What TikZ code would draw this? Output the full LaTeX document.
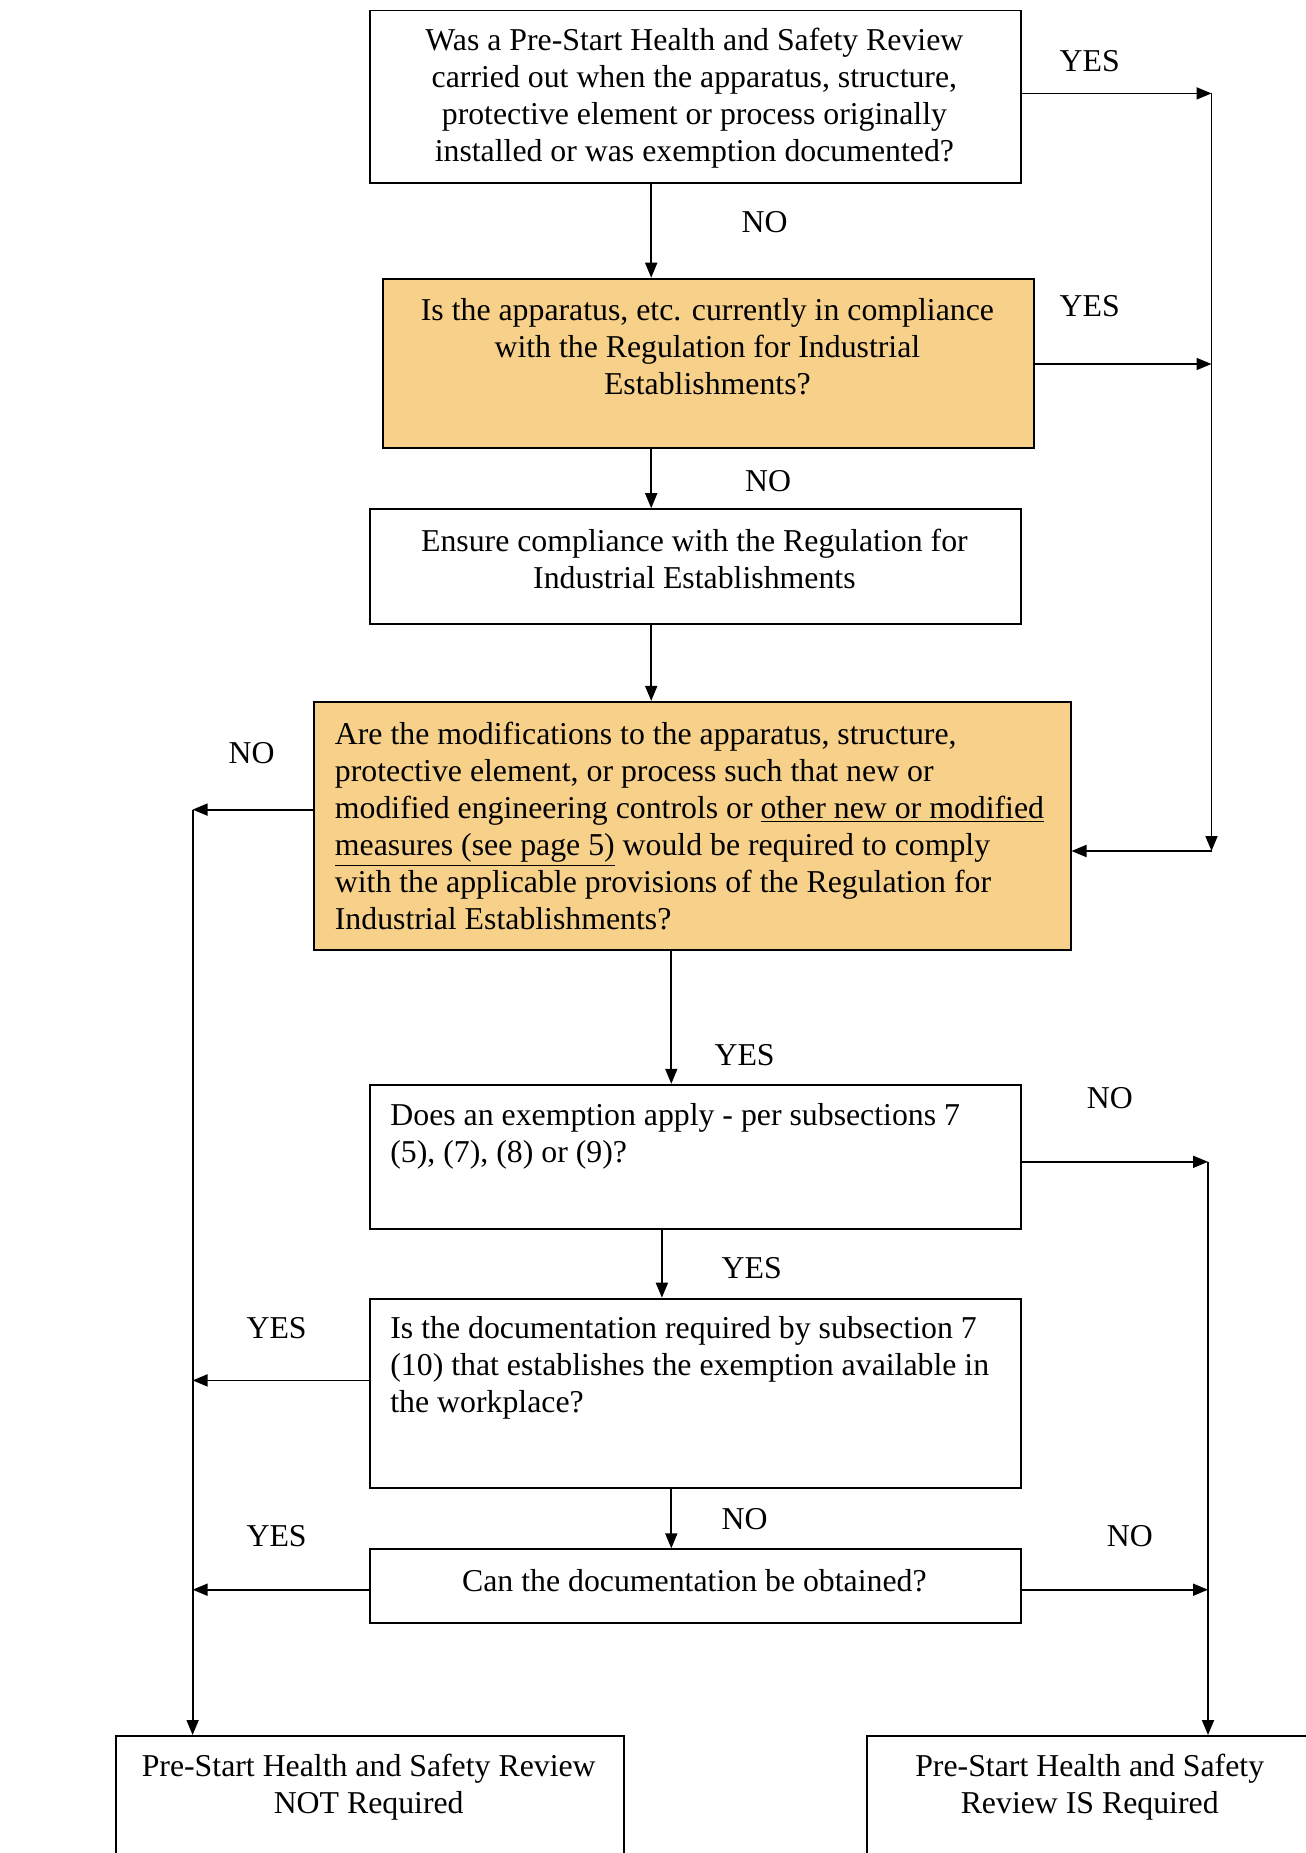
\documentclass[tikz,border=0pt]{standalone}
\usepackage{fontspec}
\setmainfont{Liberation Serif}
\usetikzlibrary{arrows.meta,calc}
\definecolor{boxorange}{RGB}{247,208,138}
\begin{document}
\begin{tikzpicture}[x=0.5pt,y=-0.5pt,
  box/.style={draw, line width=0.95pt, anchor=north west, inner sep=0pt},
  obox/.style={box, fill=boxorange},
  txt/.style={font=\fontsize{15.9}{18.44}\selectfont, inner sep=0pt},
  lbl/.style={font=\fontsize{15.9}{18.44}\selectfont, inner sep=0pt},
  arr/.style={line width=0.9pt, -{Triangle[length=7.5pt,width=6pt]}},
  ln/.style={line width=0.9pt}]
\useasboundingbox (0,0) rectangle (1306,1853);
\clip (0,0) rectangle (1306,1853);
% boxes
\node[box,  minimum width=325.65pt, minimum height=86.25pt] (b1) at (368.7,9.5) {};
\node[obox, minimum width=325.65pt, minimum height=84.55pt] (b2) at (381.7,277.7) {};
\node[box,  minimum width=325.65pt, minimum height=57.35pt] (b3) at (368.7,508.2) {};
\node[obox, minimum width=378.2pt,  minimum height=124.1pt] (b4) at (313.2,700.9) {};
\node[box,  minimum width=325.65pt, minimum height=72.1pt]  (b5) at (368.7,1083.8) {};
\node[box,  minimum width=325.65pt, minimum height=94.55pt] (b6) at (368.7,1297.7) {};
\node[box,  minimum width=325.65pt, minimum height=36.65pt] (b7) at (368.7,1548.3) {};
\node[box,  minimum width=254.15pt, minimum height=82.5pt]  (bl) at (114.6,1735) {};
\node[box,  minimum width=241.85pt, minimum height=82.5pt]  (br) at (866.3,1735) {};
% texts
\node[txt, align=center] (t1) at (694.4,98.5) {Was a Pre-Start Health and Safety Review\\carried out when the apparatus, structure,\\protective element or process originally\\installed or was exemption documented?};
\node[txt, align=center] (t2) at (707.4,347) {Is the apparatus, etc. currently in compliance\\with the Regulation for Industrial\\Establishments?};
\node[txt, align=center] (t3) at (694.4,559) {Ensure compliance with the Regulation for\\Industrial Establishments};
\node[txt, align=left, anchor=west] (t4) at (334.5,826) {Are the modifications to the apparatus, structure,\\protective element, or process such that new or\\modified engineering controls or \underline{other new or modified}\\\underline{measures (see page 5)} would be required to comply\\with the applicable provisions of the Regulation for\\Industrial Establishments?};
\node[txt, align=left, anchor=west] (t5) at (390,1136) {Does an exemption apply - per subsections 7\\(5), (7), (8) or (9)?};
\node[txt, align=left, anchor=west] (t6) at (390,1368) {Is the documentation required by subsection 7\\(10) that establishes the exemption available in\\the workplace?};
\node[txt, align=center] (t7) at (694.4,1580.5) {Can the documentation be obtained?};
\node[txt, align=center] (t8) at (368.7,1787) {Pre-Start Health and Safety Review\\NOT Required};
\node[txt, align=center] (t9) at (1089.7,1787) {Pre-Start Health and Safety\\Review IS Required};
% labels
\node[lbl] (n1) at (764.7,222.5) {NO};
\node[lbl] (y1) at (1089.7,61.5) {YES};
\node[lbl] (y2) at (1089.7,306.5) {YES};
\node[lbl] (n2) at (768,481.5) {NO};
\node[lbl] (n3) at (251.7,753) {NO};
\node[lbl] (y3) at (744.6,1055.5) {YES};
\node[lbl] (n4) at (1109.8,1098) {NO};
\node[lbl] (y4) at (751.7,1268.5) {YES};
\node[lbl] (y5) at (276.6,1328.5) {YES};
\node[lbl] (n5) at (744.6,1519) {NO};
\node[lbl] (y6) at (276.6,1536.5) {YES};
\node[lbl] (n6) at (1129.9,1536.5) {NO};
% junction coordinates
\coordinate (xa) at (651.2,0);
\coordinate (xb) at (671.3,0);
\coordinate (xc) at (661.9,0);
\coordinate (r1) at (1211.5,93.4);
\coordinate (r2) at (1211.5,364);
\coordinate (r3) at (1211.5,851);
\coordinate (r4) at (1208,1161.8);
\coordinate (r5) at (1208,1589.7);
\coordinate (l1) at (192.6,809.6);
\coordinate (l2) at (192.6,1380.4);
\coordinate (l3) at (192.6,1589.7);
% connectors
\draw[arr] (b1.south -| xa) -- (b2.north -| xa);
\draw[arr] (b2.south -| xa) -- (b3.north -| xa);
\draw[arr] (b3.south -| xa) -- (b4.north -| xa);
\draw[arr] (b4.south -| xb) -- (b5.north -| xb);
\draw[arr] (b5.south -| xc) -- (b6.north -| xc);
\draw[arr] (b6.south -| xb) -- (b7.north -| xb);
\draw[arr] (b1.east |- r1) -- (r1);
\draw[arr] (b2.east |- r2) -- (r2);
\draw[arr] (r1) -- (r3);
\draw[arr] (r3) -- (b4.east |- r3);
\draw[arr] (b4.west |- l1) -- (l1);
\draw[arr] (l1) -- (bl.north -| l1);
\draw[arr] (b6.west |- l2) -- (l2);
\draw[arr] (b7.west |- l3) -- (l3);
\draw[arr] (b5.east |- r4) -- (r4);
\draw[arr] (r4) -- (br.north -| r4);
\draw[arr] (b7.east |- r5) -- (r5);
\end{tikzpicture}
\end{document}
